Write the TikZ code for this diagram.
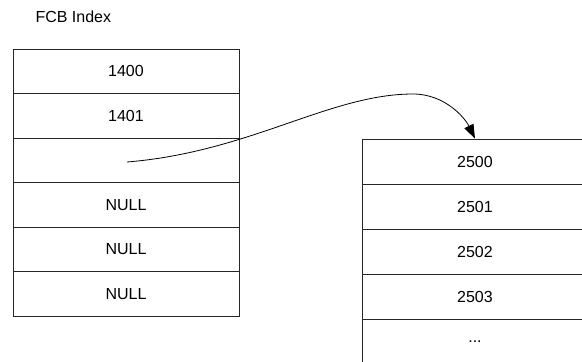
\documentclass[tikz,border=0pt]{standalone}
\usepackage{fontspec}
\setmainfont{Liberation Sans}
\usetikzlibrary{arrows.meta}
\begin{document}
\begin{tikzpicture}[x=1pt,y=-1pt,
  cell/.style={draw=black!85,line width=0.8pt,minimum width=226pt,minimum height=44.5pt,inner sep=0pt,font=\fontsize{16}{18}\selectfont},
  link/.style={draw=black,line width=0.8pt,-{Triangle[length=14pt,width=10pt]}}]
\useasboundingbox (0,0) rectangle (582,362);
\clip (0,0) rectangle (582,362);
\node[anchor=west,font=\fontsize{16}{18}\selectfont] (title) at (32,17) {FCB Index};
\node[cell] (a0) at (126,71.25) {1400};
\node[cell] (a1) at (126,115.75) {1401};
\node[cell] (a2) at (126,160.25) {};
\node[cell] (a3) at (126,204.75) {NULL};
\node[cell] (a4) at (126,249.25) {NULL};
\node[cell] (a5) at (126,293.75) {NULL};
\node[cell,minimum height=45pt] (b0) at (475,161.5) {2500};
\node[cell,minimum height=45pt] (b1) at (475,206.5) {2501};
\node[cell,minimum height=45pt] (b2) at (475,251.5) {2502};
\node[cell,minimum height=45pt] (b3) at (475,296.5) {2503};
\node[cell,minimum height=45pt] (b4) at (475,341.5) {...};
\coordinate (s) at (127,162);
\coordinate (peak) at (413,94);
\coordinate (e) at (b0.north);
\draw[link] (s) .. controls (250,152) and (330,94) .. (peak) .. controls (445,94) and (465,118) .. (e);
\end{tikzpicture}
\end{document}
